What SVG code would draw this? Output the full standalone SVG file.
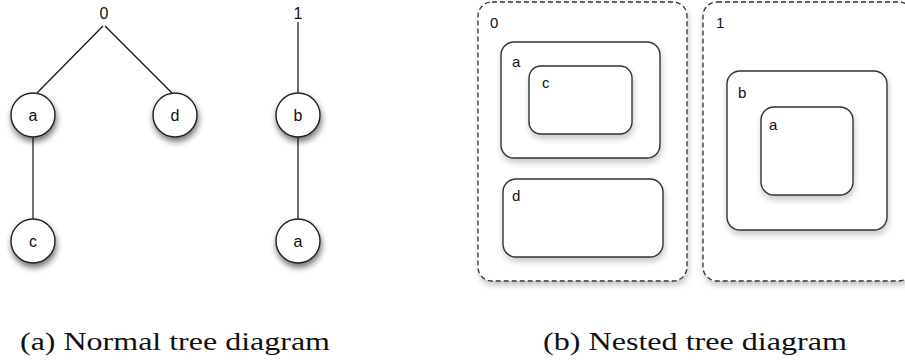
<svg xmlns="http://www.w3.org/2000/svg" width="905" height="363" viewBox="0 0 905 363">
<defs>
<filter id="sh" x="-30%" y="-30%" width="160%" height="170%">
<feGaussianBlur in="SourceAlpha" stdDeviation="3"/>
<feOffset dx="1" dy="4" result="b"/>
<feComponentTransfer><feFuncA type="linear" slope="0.55"/></feComponentTransfer>
<feMerge><feMergeNode/><feMergeNode in="SourceGraphic"/></feMerge>
</filter>
<filter id="shb" x="-10%" y="-10%" width="120%" height="125%">
<feGaussianBlur in="SourceAlpha" stdDeviation="3"/>
<feOffset dx="1" dy="4" result="b"/>
<feComponentTransfer><feFuncA type="linear" slope="0.22"/></feComponentTransfer>
<feMerge><feMergeNode/><feMergeNode in="SourceGraphic"/></feMerge>
</filter>
</defs>
<style>
.n{fill:#fff;stroke:#222;stroke-width:1.4;filter:url(#sh)}
.bx{fill:#fff;stroke:#333;stroke-width:1.4;filter:url(#shb)}
.dash{fill:#fff;stroke:#333;stroke-width:1.3;stroke-dasharray:5 3;filter:url(#shb)}
.e{stroke:#111;stroke-width:1.2;fill:none}
.t{font-family:"Liberation Sans",Arial,sans-serif;font-size:15px;fill:#111}
.tc{font-family:"Liberation Sans",Arial,sans-serif;font-size:16px;fill:#111;text-anchor:middle}
.cap{font-family:"Liberation Serif","Times New Roman",serif;font-size:25px;fill:#111}
</style>
<rect width="905" height="363" fill="#fff"/>
<g id="connectors">
<line class="e" x1="103" y1="26" x2="37" y2="93"/>
<line class="e" x1="105" y1="26" x2="172" y2="93"/>
<line class="e" x1="33" y1="137" x2="33" y2="219"/>
<line class="e" x1="298" y1="22" x2="298" y2="93"/>
<line class="e" x1="298" y1="137" x2="298" y2="219"/>
</g>
<g id="root0"><text class="tc" x="104" y="19" font-size="15">0</text></g>
<g id="root1"><text class="tc" x="298" y="19" font-size="15">1</text></g>
<g id="node-a"><circle class="n" cx="33" cy="115" r="22"/><text class="tc" x="33" y="121">a</text></g>
<g id="node-d"><circle class="n" cx="175" cy="115" r="22"/><text class="tc" x="175" y="121">d</text></g>
<g id="node-c"><circle class="n" cx="33" cy="241" r="22"/><text class="tc" x="33" y="247">c</text></g>
<g id="node-b"><circle class="n" cx="298" cy="115" r="22"/><text class="tc" x="298" y="121">b</text></g>
<g id="node-a2"><circle class="n" cx="298" cy="241" r="22"/><text class="tc" x="298" y="247">a</text></g>

<g id="box0"><rect class="dash" x="478" y="2" width="209" height="279" rx="14"/><text class="t" x="490" y="28">0</text></g>
<g id="box0-a"><rect class="bx" x="501" y="42" width="159" height="116" rx="13"/><text class="t" x="512" y="67">a</text></g>
<g id="box0-c"><rect class="bx" x="529" y="66" width="103" height="68" rx="12"/><text class="t" x="542" y="88">c</text></g>
<g id="box0-d"><rect class="bx" x="503" y="179" width="160" height="78" rx="13"/><text class="t" x="512" y="201">d</text></g>
<g id="box1"><rect class="dash" x="703" y="2" width="210" height="279" rx="14"/><text class="t" x="716" y="28">1</text></g>
<g id="box1-b"><rect class="bx" x="727" y="71" width="160" height="159" rx="13"/><text class="t" x="738" y="98">b</text></g>
<g id="box1-a"><rect class="bx" x="761" y="107" width="92" height="88" rx="13"/><text class="t" x="769" y="130">a</text></g>

<g id="captions">
<text class="cap" x="20" y="350" textLength="310" lengthAdjust="spacingAndGlyphs">(a) Normal tree diagram</text>
<text class="cap" x="543" y="350" textLength="304" lengthAdjust="spacingAndGlyphs">(b) Nested tree diagram</text>
</g>
</svg>
